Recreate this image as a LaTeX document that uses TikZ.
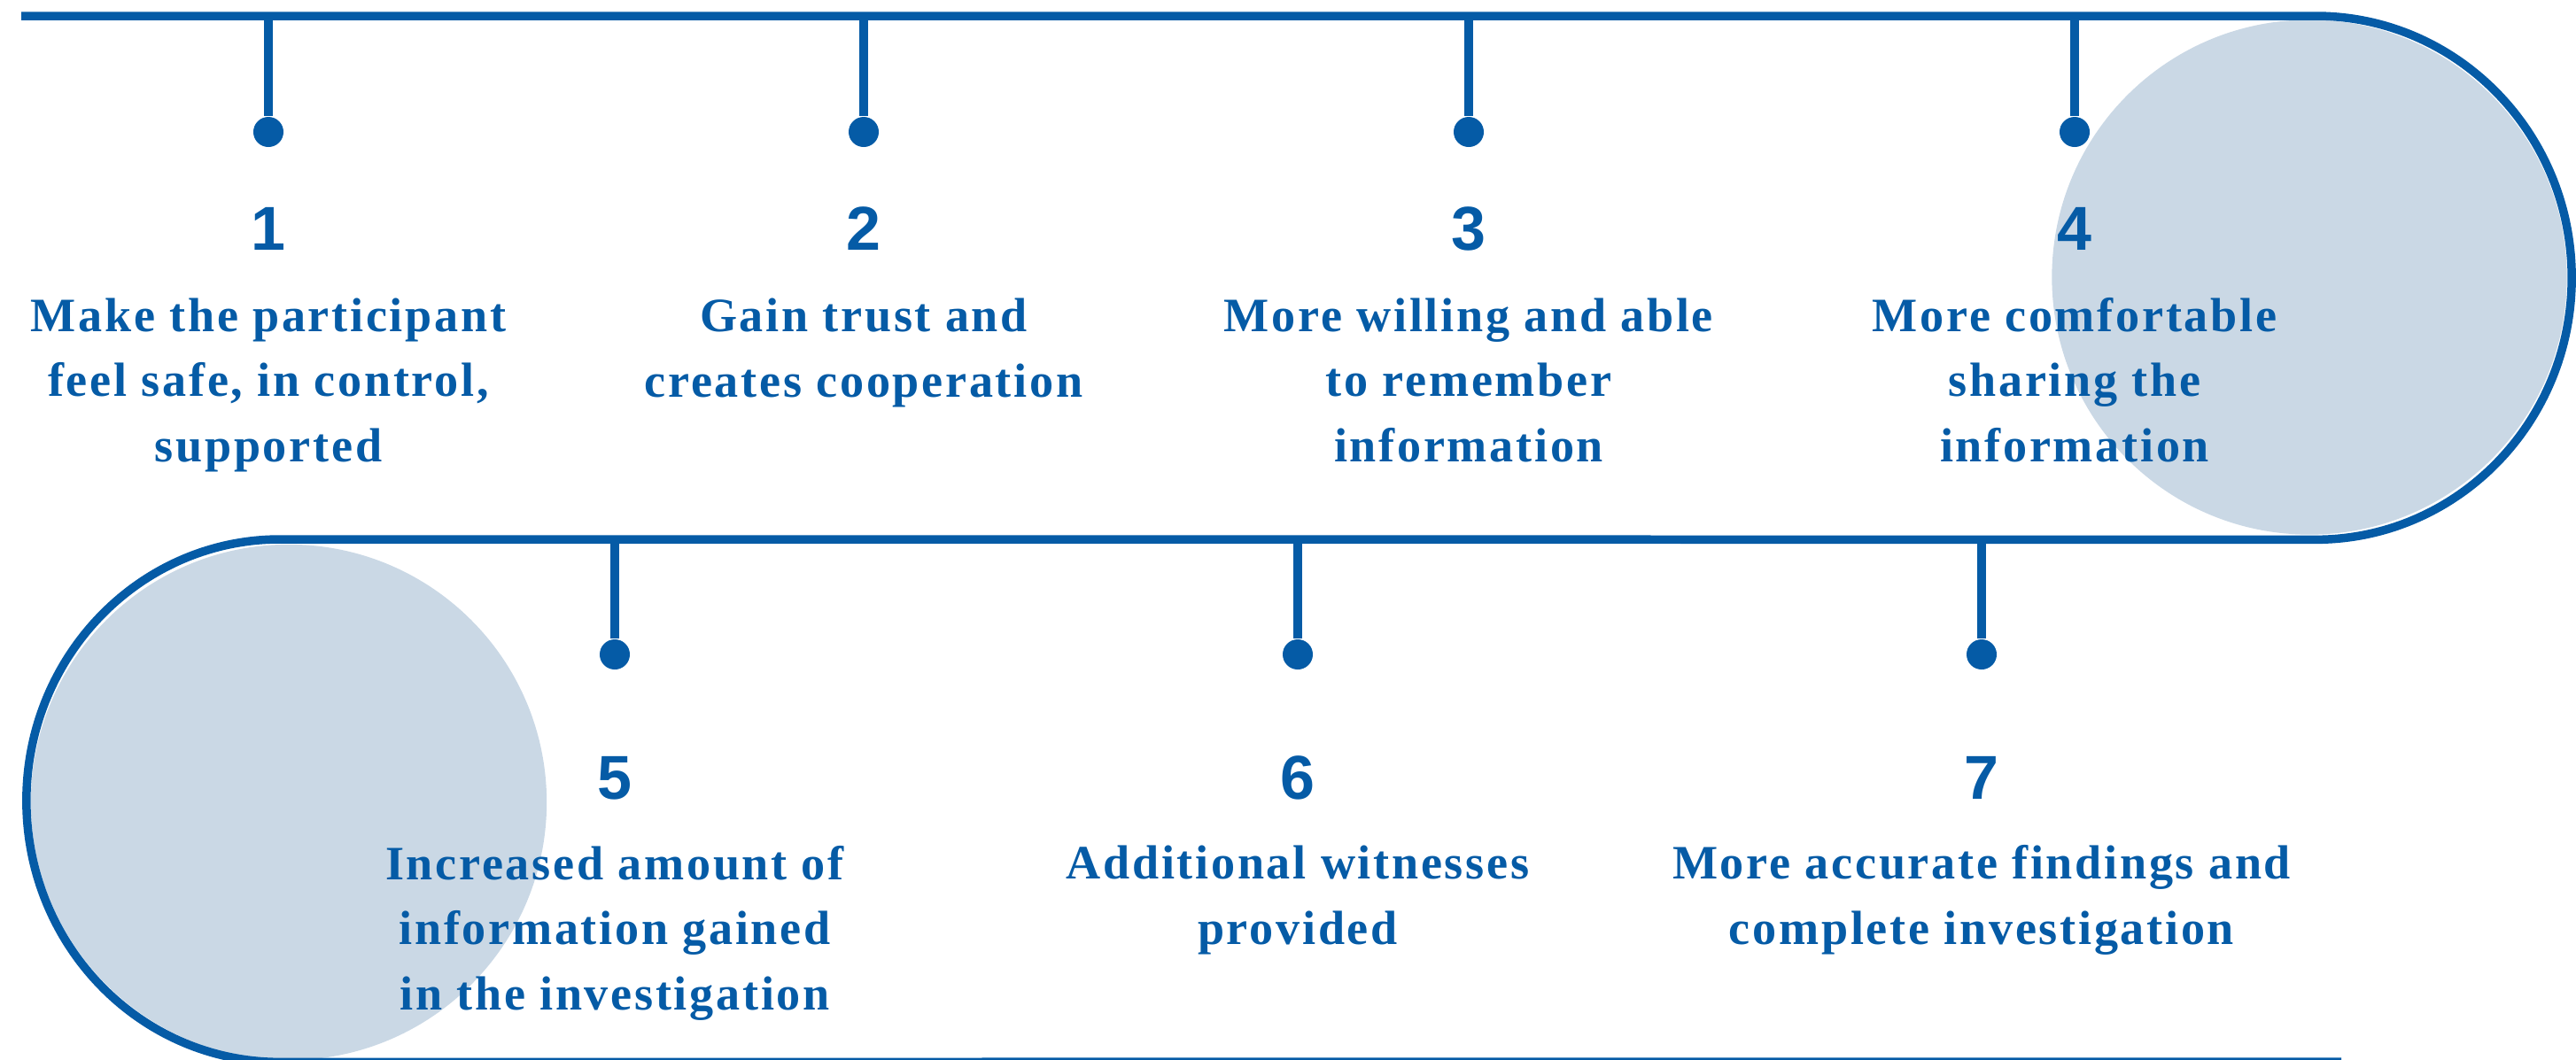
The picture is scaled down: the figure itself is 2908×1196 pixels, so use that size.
\documentclass[tikz,border=0pt]{standalone}
\usepackage{fontspec}
\setmainfont{Liberation Serif}[LetterSpace=5]
\newfontfamily\numfont{Liberation Sans}
\definecolor{navy}{RGB}{5,91,166}
\definecolor{haze}{RGB}{202,216,229}
\tikzset{
  track/.style={draw=navy,line width=2.7pt},
  stem/.style={draw=navy,line width=2.9pt},
  pin/.style={circle,fill=navy,inner sep=0pt,minimum size=3.4mm},
  num/.style={anchor=base,inner sep=0pt,text=navy,font=\numfont\bfseries\fontsize{19.9}{24}\selectfont},
  txt/.style={anchor=base,inner sep=0pt,align=center,text=navy,font=\bfseries\fontsize{15.4}{20.8}\selectfont},
}

\begin{document}
\begin{tikzpicture}[x=0.01cm,y=0.01cm]
\useasboundingbox (0,0) rectangle (2908,-1196);
\fill[haze] (2607,-313) circle[radius=2.905cm]; \fill[haze] (326,-906) circle[radius=2.91cm];
\draw[track] (24,-18) -- (2614,-18) arc[start angle=90,end angle=-90,x radius=2.89cm,y radius=2.955cm]
  -- (316,-609) arc[start angle=90,end angle=270,x radius=2.86cm,y radius=2.95cm] -- (2643,-1199);
% top row
\coordinate (s1) at (303,-18); \coordinate (s2) at (975,-18); \coordinate (s3) at (1658,-18); \coordinate (s4) at (2342,-18);
\node[pin] (p1) at (303,-149){}; \node[pin] (p2) at (975,-149){}; \node[pin] (p3) at (1658,-149){}; \node[pin] (p4) at (2342,-149){};
\draw[stem] (s1)--(p1); \draw[stem] (s2)--(p2); \draw[stem] (s3)--(p3); \draw[stem] (s4)--(p4);
\node[num] (n1) at (303,-282){1}; \node[num] (n2) at (975,-282){2}; \node[num] (n3) at (1658,-282){3}; \node[num] (n4) at (2342,-282){4};
% base anchor sits on the last line
\node[txt] (t1) at (303,-521){Make the participant\\feel safe, in control,\\supported};
\node[txt] (t2) at (975,-448){Gain trust and\\creates cooperation};
\node[txt] (t3) at (1658,-521){More willing and able\\to remember\\information};
\node[txt] (t4) at (2342,-521){More comfortable\\sharing the\\information};
% bottom row
\coordinate (s5) at (694,-609); \coordinate (s6) at (1465,-609); \coordinate (s7) at (2237,-609);
\node[pin] (p5) at (694,-739){}; \node[pin] (p6) at (1465,-739){}; \node[pin] (p7) at (2237,-739){};
\draw[stem] (s5)--(p5); \draw[stem] (s6)--(p6); \draw[stem] (s7)--(p7);
\node[num] (n5) at (694,-902){5}; \node[num] (n6) at (1465,-902){6}; \node[num] (n7) at (2237,-902){7};
\node[txt] (t5) at (694,-1140){Increased amount of\\information gained\\in the investigation};
\node[txt] (t6) at (1465,-1066){Additional witnesses\\provided};
\node[txt] (t7) at (2237,-1066){More accurate findings and\\complete investigation};
\end{tikzpicture}
\end{document}
